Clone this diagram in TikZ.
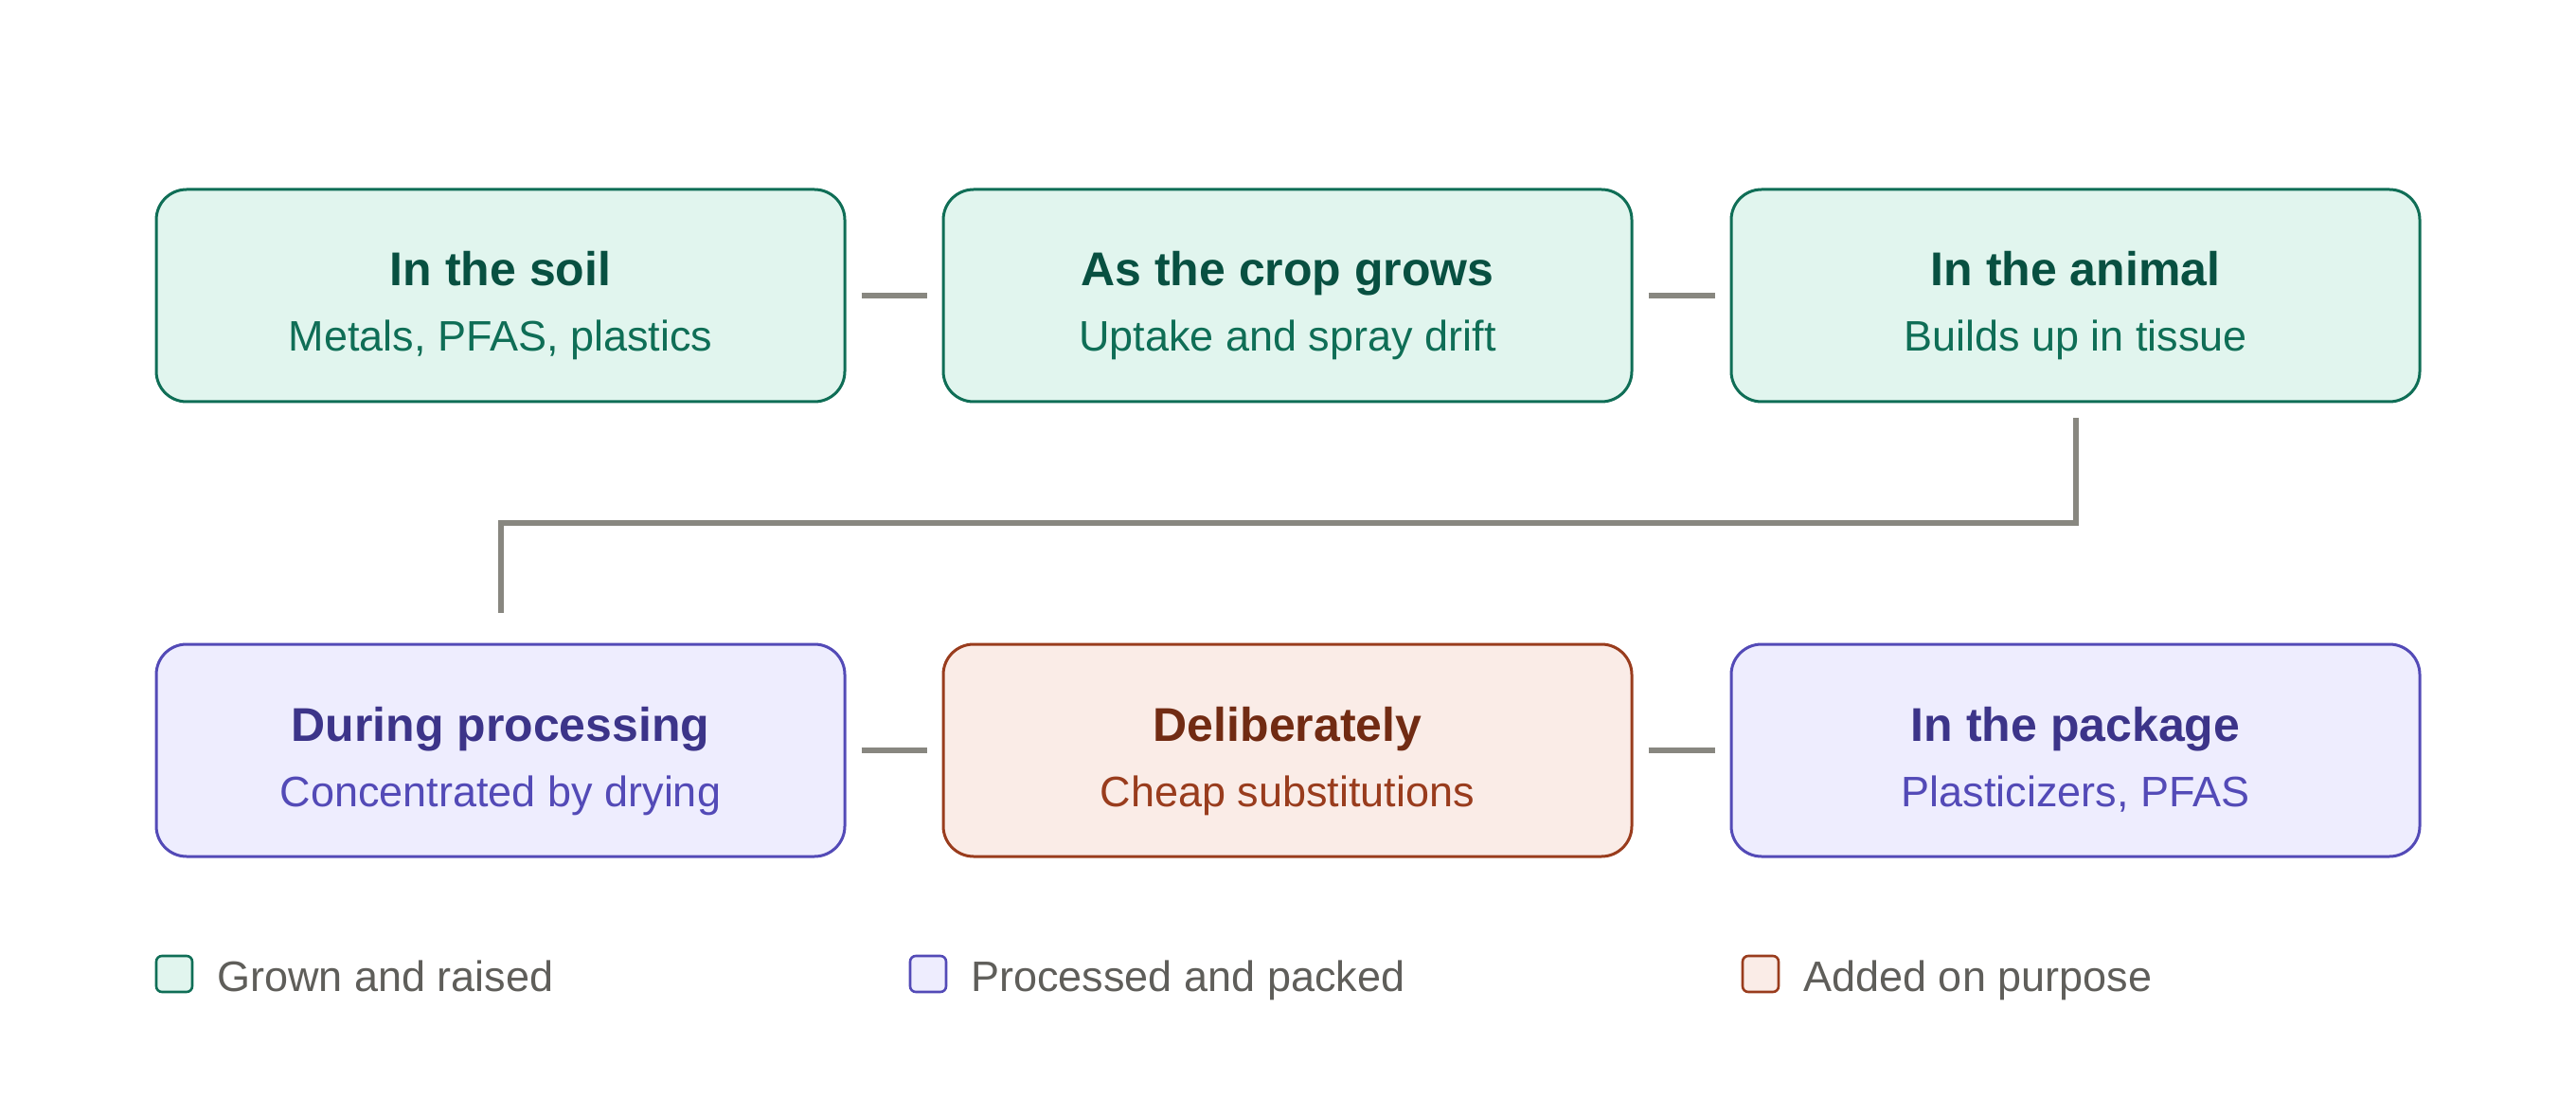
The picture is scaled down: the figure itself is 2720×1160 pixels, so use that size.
\documentclass[tikz,border=0pt]{standalone}
\usepackage{fontspec}
\setmainfont{Liberation Sans}
\definecolor{gfill}{HTML}{E1F5EE}
\definecolor{gline}{HTML}{0F6E56}
\definecolor{gtitle}{HTML}{085041}
\definecolor{pfill}{HTML}{EEEDFE}
\definecolor{pline}{HTML}{534AB7}
\definecolor{ptitle}{HTML}{3C3489}
\definecolor{rfill}{HTML}{FAECE7}
\definecolor{rline}{HTML}{993C1D}
\definecolor{rtitle}{HTML}{712B13}
\definecolor{conncol}{HTML}{888780}
\definecolor{legtext}{HTML}{5F5E5A}
\begin{document}
\begin{tikzpicture}[x=0.5pt,y=-0.5pt,
  stagebox/.style={draw, line width=1.5pt, rounded corners=16pt, minimum width=363.5pt, minimum height=112pt, inner sep=0pt},
  gbox/.style={stagebox, fill=gfill, draw=gline},
  pbox/.style={stagebox, fill=pfill, draw=pline},
  rbox/.style={stagebox, fill=rfill, draw=rline},
  ttl/.style={anchor=base, inner sep=0pt, font=\fontsize{25pt}{30pt}\selectfont\bfseries},
  sub/.style={anchor=base, inner sep=0pt, font=\fontsize{22.5pt}{27pt}\selectfont},
  conn/.style={draw=conncol, line width=3pt},
  legsq/.style={draw, line width=1.3pt, rounded corners=3pt, minimum width=19pt, minimum height=19pt, inner sep=0pt},
  legtxt/.style={anchor=base west, inner sep=0pt, text=legtext, font=\fontsize{22.5pt}{27pt}\selectfont}]
\useasboundingbox[fill=white] (0,0) rectangle (2720,1160);
% row 1
\node[gbox] (s1) at (528.5,312) {};
\node[gbox] (s2) at (1359.5,312) {};
\node[gbox] (s3) at (2191.5,312) {};
% row 2
\node[pbox] (s4) at (528.5,792) {};
\node[rbox] (s5) at (1359.5,792) {};
\node[pbox] (s6) at (2191.5,792) {};
% texts
\node[ttl, text=gtitle] (t1) at (528.5,302) {In the soil};
\node[sub, text=gline] (u1) at (528.5,371) {Metals, PFAS, plastics};
\node[ttl, text=gtitle] (t2) at (1359.5,302) {As the crop grows};
\node[sub, text=gline] (u2) at (1359.5,371) {Uptake and spray drift};
\node[ttl, text=gtitle] (t3) at (2191.5,302) {In the animal};
\node[sub, text=gline] (u3) at (2191.5,371) {Builds up in tissue};
\node[ttl, text=ptitle] (t4) at (528.5,782) {During processing};
\node[sub, text=pline] (u4) at (528.5,851) {Concentrated by drying};
\node[ttl, text=rtitle] (t5) at (1359.5,782) {Deliberately};
\node[sub, text=rline] (u5) at (1359.5,851) {Cheap substitutions};
\node[ttl, text=ptitle] (t6) at (2191.5,782) {In the package};
\node[sub, text=pline] (u6) at (2191.5,851) {Plasticizers, PFAS};
% connectors
\draw[conn] ([xshift=8pt]s1.east) -- ([xshift=-8pt]s2.west);
\draw[conn] ([xshift=8pt]s2.east) -- ([xshift=-8pt]s3.west);
\draw[conn] ([xshift=8pt]s4.east) -- ([xshift=-8pt]s5.west);
\draw[conn] ([xshift=8pt]s5.east) -- ([xshift=-8pt]s6.west);
\coordinate (mid) at (0,552);
\coordinate (a) at ([yshift=-8pt]s3.south);
\coordinate (b) at ([yshift=16pt]s4.north);
\draw[conn] (a) -- (a |- mid) -- (b |- mid) -- (b);
% legend
\node[legsq, fill=gfill, draw=gline] (l1) at (184,1028) {};
\node[legtxt] (lt1) at (229,1046) {Grown and raised};
\node[legsq, fill=pfill, draw=pline] (l2) at (980,1028) {};
\node[legtxt] (lt2) at (1025,1046) {Processed and packed};
\node[legsq, fill=rfill, draw=rline] (l3) at (1859,1028) {};
\node[legtxt] (lt3) at (1904,1046) {Added on purpose};
\end{tikzpicture}
\end{document}
